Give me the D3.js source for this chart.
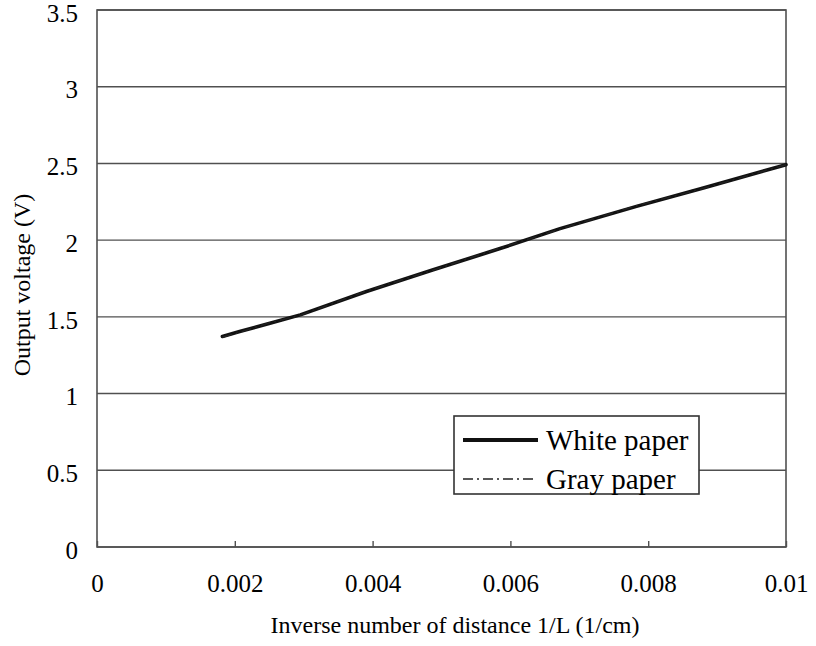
<!DOCTYPE html>
<html><head><meta charset="utf-8">
<script src="https://cdn.jsdelivr.net/npm/d3@7"></script>
<style>body{margin:0;background:#fff}svg{display:block}</style>
</head><body><svg id="c" width="816" height="646"></svg>
<script>
const xValues = [0.00182, 0.00207, 0.00251, 0.00295, 0.00391, 0.00488, 0.00585, 0.00672, 0.00783, 0.0088, 0.01];
const whitePaper = [1.372, 1.404, 1.459, 1.513, 1.665, 1.807, 1.945, 2.075, 2.220, 2.340, 2.492];
const grayPaper = [1.367, 1.400, 1.462, 1.510, 1.668, 1.805, 1.948, 2.072, 2.224, 2.337, 2.492];
const xTicks = [0, 0.002, 0.004, 0.006, 0.008, 0.01];
const yTicks = [0, 0.5, 1, 1.5, 2, 2.5, 3, 3.5];
const seriesNames = ["White paper", "Gray paper"];

const svg = d3.select("#c");
const L = 97, R = 786, T = 10, B = 547;
const x = d3.scaleLinear().domain([0, 0.01]).range([L, R]);
const y = d3.scaleLinear().domain([0, 3.5]).range([B, T]);
const font = "'Liberation Serif', 'Times New Roman', serif";
const gridColor = "#505050";

// gridlines
svg.append("g").selectAll("line").data(yTicks).join("line")
  .attr("x1", L).attr("x2", R).attr("y1", d => y(d)).attr("y2", d => y(d))
  .attr("stroke", gridColor).attr("stroke-width", 1.4);

// frame
svg.append("rect").attr("x", L).attr("y", T).attr("width", R - L).attr("height", B - T)
  .attr("fill", "none").attr("stroke", gridColor).attr("stroke-width", 1.6);

// x axis ticks (inside, upward)
const xAxis = d3.axisBottom(x).tickValues(xTicks).tickSize(-6).tickPadding(27)
  .tickFormat(d => d === 0 ? "0" : String(+d.toPrecision(3)));
const gx = svg.append("g").attr("transform", `translate(0,${B})`).call(xAxis);
gx.select(".domain").remove();
gx.selectAll(".tick line").attr("stroke", gridColor).attr("stroke-width", 1.4);
gx.selectAll(".tick text").attr("font-family", font).attr("font-size", 25).attr("fill", "#000")
  .attr("dy", "0.71em");

// y axis labels
const yAxis = d3.axisLeft(y).tickValues(yTicks).tickSize(0).tickPadding(19)
  .tickFormat(d => String(d));
const gy = svg.append("g").attr("transform", `translate(${L},0)`).call(yAxis);
gy.select(".domain").remove();
gy.selectAll(".tick text").attr("font-family", font).attr("font-size", 25).attr("fill", "#000")
  .attr("dy", "0.45em");

// axis titles
svg.append("text").attr("x", 455).attr("y", 633).attr("text-anchor", "middle")
  .attr("font-family", font).attr("font-size", 24).attr("fill", "#000")
  .text("Inverse number of distance 1/L (1/cm)");
svg.append("text").attr("transform", `translate(30,${285}) rotate(-90)`).attr("text-anchor", "middle")
  .attr("font-family", font).attr("font-size", 24).attr("fill", "#000")
  .text("Output voltage (V)");

// lines
const line = d3.line().x((d, i) => x(xValues[i])).y(d => y(d));
svg.append("path").datum(whitePaper).attr("d", line).attr("fill", "none")
  .attr("stroke", "#111").attr("stroke-width", 3.6).attr("stroke-linejoin", "round").attr("stroke-linecap", "round");
svg.append("path").datum(grayPaper).attr("d", line).attr("fill", "none")
  .attr("stroke", "#222").attr("stroke-width", 1.4).attr("stroke-dasharray", "10,4,2,4");

// legend
const lg = svg.append("g");
lg.append("rect").attr("x", 454).attr("y", 416).attr("width", 245).attr("height", 78)
  .attr("fill", "#fff").attr("stroke", "#333").attr("stroke-width", 1.6);
const legY = [440, 479];
lg.append("line").attr("x1", 463).attr("x2", 538).attr("y1", legY[0]).attr("y2", legY[0])
  .attr("stroke", "#111").attr("stroke-width", 4);
lg.append("line").attr("x1", 463).attr("x2", 537).attr("y1", legY[1]).attr("y2", legY[1])
  .attr("stroke", "#222").attr("stroke-width", 1.4).attr("stroke-dasharray", "10,4,2,4");
lg.selectAll("text").data(seriesNames).join("text")
  .attr("x", 546).attr("y", (d, i) => legY[i]).attr("dy", "0.34em")
  .attr("font-family", font).attr("font-size", 29).attr("fill", "#000").text(d => d);
</script></body></html>
